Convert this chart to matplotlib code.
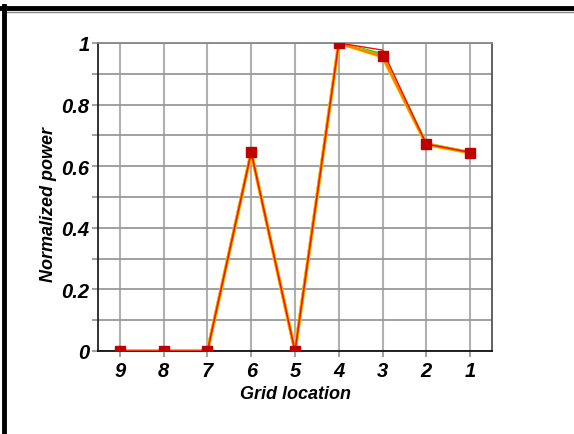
import matplotlib
matplotlib.use("Agg")
import matplotlib.pyplot as plt
from matplotlib.lines import Line2D

locations = ["9", "8", "7", "6", "5", "4", "3", "2", "1"]
power_blue = [0, 0, 0, 0.645, 0, 1.0, 0.957, 0.671, 0.644]
power_green = [0, 0, 0, 0.645, 0, 1.0, 0.963, 0.673, 0.645]
power_yellow = [0, 0, 0, 0.644, 0, 1.0, 0.955, 0.670, 0.644]
power_orange = [0, 0, 0, 0.645, 0, 1.0, 0.956, 0.671, 0.644]
power_red = [0, 0, 0, 0.645, 0, 1.0, 0.977, 0.672, 0.645]
power_marked = [0, 0, 0, 0.645, 0, 1.0, 0.957, 0.671, 0.644]
y_ticks = [0, 0.2, 0.4, 0.6, 0.8, 1]
y_ticklabels = ["0", "0.2", "0.4", "0.6", "0.8", "1"]

W, H = 574, 435
fig = plt.figure(figsize=(W / 100, H / 100), dpi=100)
ax = fig.add_axes([98 / W, 1 - 352 / H, (492 - 98) / W, (352 - 44) / H])

x = list(range(len(locations)))
ax.plot(x, power_blue, color="#0000ff", lw=2.0, zorder=3)
ax.plot(x, power_green, color="#00dd00", lw=2.0, zorder=3.1)
ax.plot(x, power_yellow, color="#ffee00", lw=2.6, zorder=3.2)
ax.plot(x, power_orange, color="#ff7f00", lw=2.0, zorder=3.3)
ax.plot(x, power_red, color="#ee1111", lw=1.0, zorder=3.4)
ax.plot(x, power_marked, lw=0, marker="s", ms=7.5,
        markerfacecolor="#c00000", markeredgecolor="#c00000", zorder=4)

ax.set_xlim(-0.5, len(locations) - 0.5)
ax.set_ylim(0, 1)
ax.set_xticks(x)
ax.set_xticklabels(locations)
ax.set_yticks(y_ticks)
ax.set_yticklabels(y_ticklabels)
ax.set_yticks([0.1, 0.3, 0.5, 0.7, 0.9], minor=True)

ax.grid(True, which="both", axis="y", color="#999999", lw=1.3)
ax.grid(True, which="major", axis="x", color="#b0b0b0", lw=1.5)
ax.set_axisbelow(True)
ax.tick_params(axis="both", which="both", length=4, width=1.3, color="#999999")
ax.tick_params(axis="y", pad=2)
ax.tick_params(axis="x", pad=3)

for lab in ax.get_xticklabels() + ax.get_yticklabels():
    lab.set_fontfamily("Liberation Sans")
    lab.set_fontweight("bold")
    lab.set_fontstyle("italic")
    lab.set_fontsize(14.5)

ax.spines["left"].set_color("#222222")
ax.spines["bottom"].set_color("#111111")
ax.spines["top"].set_color("#888888")
ax.spines["right"].set_color("#555555")
for s in ax.spines.values():
    s.set_linewidth(1.3)

label_font = dict(family="Liberation Sans", weight="bold", style="italic", size=13)
ax.set_xlabel("Grid location", labelpad=4, **label_font)
ax.set_ylabel("Normalized power", **label_font)
ax.yaxis.set_label_coords(-0.105, 0.48)

# frame edges along the top and left of the figure
fig.add_artist(Line2D([0, 1], [1 - 9 / H, 1 - 9 / H], color="black", lw=3.5,
                      transform=fig.transFigure))
fig.add_artist(Line2D([6 / W, 1], [1 - 12.5 / H, 1 - 12.5 / H], color="#888888",
                      lw=1.0, transform=fig.transFigure))
fig.add_artist(Line2D([4 / W, 4 / W], [0, 1 - 7 / H], color="black", lw=3.5,
                      transform=fig.transFigure))

fig.savefig("out.png", dpi=100)
